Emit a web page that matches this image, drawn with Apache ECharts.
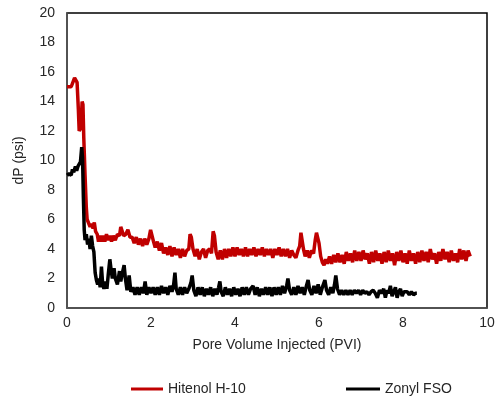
<!DOCTYPE html>
<html lang="en">
<head>
<meta charset="UTF-8">
<title>dP vs PVI</title>
<script src="https://cdn.jsdelivr.net/npm/echarts@6/dist/echarts.min.js"></script>
<style>
  html, body { margin: 0; padding: 0; background: #fff; }
  #main { width: 500px; height: 399px; }
</style>
</head>
<body>
<div id="main"></div>
<script>
// data: [PVI, dP]
var hitenol = [
  [0,15.0],[0.05,15.0],[0.1,15.0],[0.14,15.1],[0.18,15.6],[0.21,15.7],[0.24,15.3],[0.27,13.5],[0.29,12.0],[0.31,11.9],
  [0.33,12.2],[0.36,14.0],[0.38,13.8],[0.4,11.5],[0.43,9.0],[0.46,6.8],[0.48,6.0],[0.52,5.9],[0.55,5.5],[0.58,5.7],
  [0.62,5.4],[0.65,5.8],[0.68,5.2],[0.72,5.0],[0.75,4.5],[0.78,4.9],[0.82,4.5],[0.86,4.9],[0.9,4.5],[0.94,5.0],
  [0.98,4.6],[1.02,4.9],[1.06,4.5],[1.1,4.9],[1.15,4.6],[1.2,5.0],[1.25,4.9],[1.28,5.5],[1.31,5.4],[1.35,4.9],
  [1.4,5.0],[1.45,5.3],[1.5,4.8],[1.55,4.8],[1.6,4.4],[1.65,4.8],[1.7,4.3],[1.75,4.7],[1.8,4.2],[1.85,4.7],
  [1.9,4.3],[1.95,4.7],[1.99,5.3],[2.02,5.2],[2.06,4.5],[2.1,4.1],[2.15,4.5],[2.2,3.9],[2.25,4.4],[2.3,3.7],
  [2.35,4.1],[2.4,3.6],[2.45,4.2],[2.5,3.5],[2.55,4.1],[2.6,3.6],[2.65,4.0],[2.7,3.4],[2.75,4.0],[2.8,3.5],
  [2.85,3.9],[2.9,4.0],[2.93,5.0],[2.96,4.8],[3.0,4.0],[3.05,3.5],[3.1,4.0],[3.15,3.3],[3.2,3.8],[3.25,4.0],
  [3.3,3.4],[3.35,3.9],[3.4,4.0],[3.44,3.7],[3.48,5.2],[3.51,4.9],[3.55,3.8],[3.6,3.3],[3.65,3.9],[3.7,3.3],
  [3.75,4.0],[3.8,3.4],[3.85,4.0],[3.9,3.5],[3.95,4.1],[4.0,3.5],[4.05,4.1],[4.1,3.6],[4.15,4.0],[4.2,3.5],
  [4.25,4.1],[4.3,3.5],[4.35,4.0],[4.4,3.6],[4.45,4.1],[4.5,3.5],[4.55,4.0],[4.6,3.6],[4.65,4.1],[4.7,3.5],
  [4.75,4.0],[4.8,3.6],[4.85,4.0],[4.9,3.4],[4.95,4.0],[5.0,3.6],[5.05,4.1],[5.1,3.5],[5.15,4.0],[5.2,3.5],
  [5.25,4.0],[5.3,3.4],[5.35,3.9],[5.4,3.6],[5.45,3.4],[5.5,3.9],[5.54,4.2],[5.57,5.1],[5.6,5.0],[5.63,4.0],
  [5.67,3.5],[5.72,3.9],[5.77,3.4],[5.82,3.9],[5.87,3.7],[5.91,4.6],[5.94,5.1],[5.97,5.0],[6.0,4.4],[6.04,3.5],
  [6.08,3.1],[6.12,2.9],[6.16,3.3],[6.2,3.0],[6.25,3.5],[6.3,3.0],[6.35,3.6],[6.4,3.1],[6.45,3.7],[6.5,3.1],
  [6.55,3.6],[6.6,3.0],[6.65,3.8],[6.7,3.2],[6.75,3.7],[6.8,3.1],[6.85,3.9],[6.9,3.2],[6.95,3.8],[7.0,3.2],
  [7.05,3.9],[7.1,3.3],[7.15,3.7],[7.2,3.0],[7.25,3.8],[7.3,3.1],[7.35,3.9],[7.4,3.2],[7.45,3.7],[7.5,3.0],
  [7.55,3.8],[7.6,3.1],[7.65,3.9],[7.7,3.2],[7.75,3.7],[7.8,2.9],[7.85,3.8],[7.9,3.2],[7.95,3.9],[8.0,3.1],
  [8.05,3.7],[8.1,3.0],[8.15,3.9],[8.2,3.2],[8.25,3.7],[8.3,3.0],[8.35,3.8],[8.4,3.1],[8.45,3.9],[8.5,3.2],
  [8.55,3.8],[8.6,3.1],[8.65,4.0],[8.7,3.3],[8.75,3.7],[8.8,3.0],[8.85,3.8],[8.9,3.2],[8.95,4.0],[9.0,3.3],
  [9.05,3.8],[9.1,3.1],[9.15,3.9],[9.2,3.2],[9.25,3.7],[9.3,3.1],[9.35,4.0],[9.4,3.3],[9.45,3.9],[9.5,3.2],
  [9.55,3.9],[9.6,3.5]
];

var zonyl = [
  [0,9.0],[0.05,9.1],[0.1,9.0],[0.13,9.4],[0.16,9.2],[0.2,9.6],[0.23,9.3],[0.26,9.6],[0.29,9.5],[0.32,9.9],
  [0.35,10.9],[0.37,10.2],[0.39,7.5],[0.41,5.3],[0.43,4.6],[0.46,5.0],[0.49,4.3],[0.52,4.7],[0.55,4.0],[0.58,4.9],
  [0.61,4.2],[0.64,3.8],[0.67,2.4],[0.7,1.9],[0.73,1.6],[0.76,2.0],[0.79,1.4],[0.82,2.8],[0.85,1.6],[0.88,1.3],
  [0.92,1.8],[0.95,1.3],[0.98,2.2],[1.02,3.3],[1.05,2.6],[1.08,2.0],[1.12,2.7],[1.15,2.0],[1.2,1.6],[1.25,2.5],
  [1.28,1.8],[1.32,2.4],[1.36,2.9],[1.39,2.0],[1.43,1.2],[1.48,2.2],[1.52,1.1],[1.57,1.4],[1.62,0.9],[1.67,1.4],
  [1.72,0.9],[1.77,1.4],[1.82,1.0],[1.86,1.8],[1.9,0.9],[1.95,1.4],[2.0,1.0],[2.05,1.4],[2.1,0.9],[2.15,1.4],
  [2.2,0.9],[2.25,1.5],[2.3,1.0],[2.35,1.4],[2.4,0.9],[2.45,1.5],[2.5,1.1],[2.54,1.6],[2.57,2.4],[2.6,1.3],
  [2.65,0.9],[2.7,1.4],[2.75,0.9],[2.8,1.4],[2.85,1.0],[2.9,1.3],[2.95,1.7],[2.98,2.2],[3.02,1.2],[3.07,0.8],
  [3.12,1.4],[3.17,0.9],[3.22,1.4],[3.27,0.8],[3.32,1.3],[3.37,0.9],[3.42,1.4],[3.47,0.8],[3.52,1.3],[3.57,0.9],
  [3.61,1.4],[3.64,1.8],[3.67,1.1],[3.72,0.8],[3.77,1.4],[3.82,0.9],[3.87,1.3],[3.92,0.8],[3.97,1.4],[4.02,0.9],
  [4.07,1.3],[4.12,0.8],[4.17,1.4],[4.22,0.9],[4.27,1.4],[4.32,0.9],[4.37,1.3],[4.43,1.5],[4.48,0.9],[4.53,1.4],
  [4.58,0.8],[4.63,1.3],[4.68,0.9],[4.73,1.4],[4.78,0.9],[4.83,1.4],[4.88,0.8],[4.93,1.4],[4.98,0.9],[5.03,1.4],
  [5.08,0.9],[5.13,1.5],[5.18,1.0],[5.23,1.5],[5.26,2.0],[5.3,1.2],[5.35,0.9],[5.4,1.4],[5.45,0.9],[5.5,1.5],
  [5.55,1.0],[5.6,1.4],[5.65,0.9],[5.7,1.5],[5.74,1.9],[5.78,1.2],[5.83,0.9],[5.88,1.5],[5.93,1.0],[5.98,1.6],
  [6.03,0.9],[6.08,1.4],[6.14,1.9],[6.18,1.2],[6.23,0.9],[6.28,1.4],[6.33,1.0],[6.37,1.6],[6.4,2.2],[6.44,1.3],
  [6.49,0.9],[6.54,1.2],[6.59,0.9],[6.64,1.2],[6.69,0.9],[6.74,1.2],[6.79,0.9],[6.84,1.2],[6.89,1.0],[6.94,1.2],
  [6.99,0.9],[7.04,1.2],[7.09,1.0],[7.14,1.1],[7.19,0.9],[7.24,1.1],[7.29,1.2],[7.34,1.0],[7.39,0.7],[7.44,1.2],
  [7.49,1.0],[7.54,1.3],[7.58,0.7],[7.62,1.2],[7.66,1.0],[7.7,1.5],[7.74,0.8],[7.78,1.1],[7.82,1.4],[7.86,0.7],
  [7.9,1.1],[7.94,1.3],[7.98,0.8],[8.02,1.1],[8.06,1.0],[8.1,1.1],[8.15,0.9],[8.2,1.1],[8.25,0.9],[8.3,1.0],
  [8.33,1.0]
];

var seriesNames = ['Hitenol H-10', 'Zonyl FSO'];
var seriesColors = ['#c00000', '#000000'];

var chart = echarts.init(document.getElementById('main'));
var fontFam = '"Liberation Sans", Arial, sans-serif';
var txt = '#262626';

var option = {
  animation: false,
  textStyle: { fontFamily: fontFam },
  grid: {
    left: 67, right: 13, top: 13, bottom: 91,
    show: true, borderColor: '#000', borderWidth: 1.5
  },
  legend: [
    {
      data: [seriesNames[0]], left: 126, top: 377,
      icon: 'rect', itemWidth: 32, itemHeight: 3, itemGap: 4,
      textStyle: { fontFamily: fontFam, fontSize: 14, color: txt }
    },
    {
      data: [seriesNames[1]], left: 341, top: 377,
      icon: 'rect', itemWidth: 34, itemHeight: 3,
      textStyle: { fontFamily: fontFam, fontSize: 14, color: txt }
    }
  ],
  xAxis: {
    type: 'value', min: 0, max: 10, interval: 2,
    name: 'Pore Volume Injected (PVI)', nameLocation: 'middle', nameGap: 30,
    nameTextStyle: { fontSize: 14, color: txt },
    axisLine: { lineStyle: { color: '#595959', width: 1.5 } },
    axisTick: { show: false },
    axisLabel: { fontSize: 14, color: txt, margin: 8 },
    splitLine: { show: false }
  },
  yAxis: {
    type: 'value', min: 0, max: 20, interval: 2,
    name: 'dP (psi)', nameLocation: 'middle', nameGap: 41,
    nameTextStyle: { fontSize: 14, color: txt },
    axisLine: { show: true, lineStyle: { color: '#595959', width: 1.5 } },
    axisTick: { show: false },
    axisLabel: { fontSize: 14, color: txt, margin: 12 },
    splitLine: { show: false }
  },
  series: [
    {
      name: seriesNames[0], type: 'line', data: hitenol,
      showSymbol: false, color: seriesColors[0],
      lineStyle: { width: 3.5, color: seriesColors[0] }
    },
    {
      name: seriesNames[1], type: 'line', data: zonyl,
      showSymbol: false, color: seriesColors[1],
      lineStyle: { width: 3.5, color: seriesColors[1] }
    }
  ]
};

chart.setOption(option);
</script>
</body>
</html>
